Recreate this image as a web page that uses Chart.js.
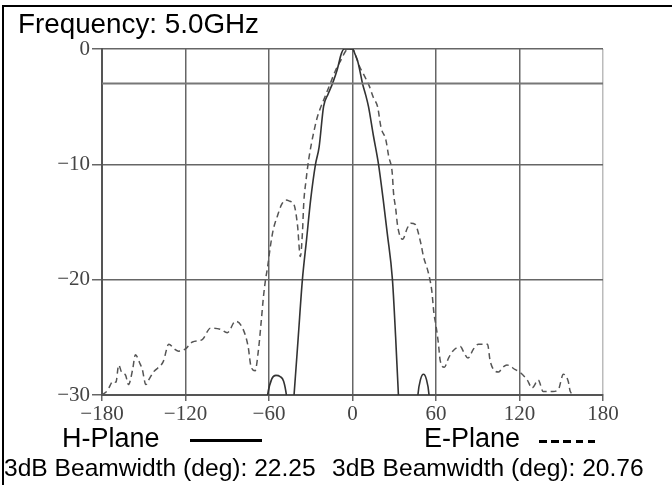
<!DOCTYPE html>
<html>
<head>
<meta charset="utf-8">
<script src="https://cdn.jsdelivr.net/npm/chart.js@4"></script>
<style>
  body { margin: 0; background: #fff; }
  #wrap { position: relative; width: 672px; height: 485px; overflow: hidden; font-family: "Liberation Sans", Arial, sans-serif; color: #000; }
  #chartBox { position: absolute; left: 0; top: 0; width: 672px; height: 485px; }
  .frame { position: absolute; left: 2px; top: 5px; right: 0; bottom: 0; border-top: 2px solid #000; border-left: 2px solid #000; pointer-events: none; }
  .txt { position: absolute; white-space: nowrap; line-height: 1; }
  .solidKey { position: absolute; height: 3px; background: #000; }
  .dashKey { position: absolute; height: 3px; background: repeating-linear-gradient(to right, #000 0 7.5px, transparent 7.5px 12.2px); }
</style>
</head>
<body>
<div id="wrap">
  <div id="chartBox"><canvas id="pattern"></canvas></div>
  <div class="frame"></div>
  <div class="txt" style="left:18px; top:10px; font-size:27.8px;">Frequency: 5.0GHz</div>
  <div class="txt" style="left:62px; top:425px; font-size:27px;">H-Plane</div>
  <div class="solidKey" style="left:190px; top:439px; width:72px;"></div>
  <div class="txt" style="left:424px; top:425px; font-size:27px;">E-Plane</div>
  <div class="dashKey" style="left:539px; top:440px; width:57px;"></div>
  <div class="txt" style="left:4px; top:456px; font-size:24.6px;">3dB Beamwidth (deg): 22.25</div>
  <div class="txt" style="left:332px; top:456px; font-size:24.6px;">3dB Beamwidth (deg): 20.76</div>
</div>
<script>
// angle ticks (deg) and level ticks (dB)
const angleTicks = [-180, -120, -60, 0, 60, 120, 180];
const levelTicks = [0, -10, -20, -30];

// H-Plane pattern (solid)
const hAngle = [-180, -66, -61, -58, -55, -52, -49.5, -47.5, -45, -44, -42, -39, -36, -33, -30, -26.6, -24, -20.8, -17.5, -14.4,
  -11, -8, -6, -3, 0, 2, 3.6, 5.5, 7.2, 9.5, 11.5, 15, 18.7, 22, 25, 28.7, 31, 33, 35, 45, 47, 49, 51, 53, 55, 57, 180];
const hGain = [-40, -36, -30, -28.6, -28.3, -28.4, -28.8, -30, -33, -33, -30, -25, -20, -16.5, -13, -10, -8.5, -5, -3.9, -3,
  -1.8, -0.4, 0, 0, 0, -0.5, -1, -2, -3, -4, -5, -7.5, -10, -13, -16, -20, -25, -30, -34, -34, -30, -28.6, -28.2, -28.6, -30, -34, -40];

// E-Plane pattern (dashed)
const eAngle = [-180, -176, -172, -170, -168, -166, -163, -161, -158, -156, -153, -151, -148.5, -146, -143, -136, -132, -128, -125, -120,
  -115, -108, -102, -95, -90, -84, -79, -75, -73, -70, -67.5, -65.5, -64, -62.5, -61, -59, -57, -54, -51, -48,
  -45, -42, -39.5, -37.5, -36, -35, -33.5, -31.5, -29.5, -28, -25.5, -23.6, -20, -16, -12, -8.5, -5, -3, 0, 2,
  5, 8, 12, 15, 18, 20.5, 24, 26, 28.5, 29.5, 31, 32.5, 36, 39.5, 42, 45, 49, 51, 54.5, 57,
  58.5, 60, 61.7, 63, 66, 69, 72, 77.5, 80, 83, 87, 90.5, 97, 99, 105, 108, 111, 117, 120, 125.6,
  129, 133.5, 137, 144, 148, 151.5, 155, 156.5, 160, 180];
const eGain = [-30, -29.6, -28.8, -28.9, -27.4, -28, -28.3, -29.1, -27.8, -26.5, -27.2, -27.8, -29.1, -28.6, -28, -27.1, -25.6, -26, -26.2, -26,
  -25.4, -25.2, -24.2, -24.3, -24.6, -23.6, -24.2, -25.8, -27.5, -27.9, -26, -23.5, -21.5, -20, -18.9, -17.1, -15.7, -14.5, -13.5, -13.1,
  -13.2, -13.5, -15.3, -18, -16, -13.3, -11.5, -9.6, -8.2, -7.3, -6, -5.3, -4.2, -3, -1.8, -1, -0.2, 0, 0, -0.5,
  -1.5, -2.2, -3.2, -4.2, -5, -6.8, -7.9, -9.3, -10.7, -12.5, -13.8, -15.4, -16.5, -15.5, -15.1, -15.2, -16.8, -18, -19.4, -21,
  -22.9, -24, -25.5, -27, -27.6, -26.8, -26.2, -25.8, -26.3, -26.8, -26, -25.6, -25.6, -27.1, -28, -27.6, -27.4, -27.8, -28, -28.7,
  -29.4, -28.7, -29.7, -29.7, -29.5, -28.2, -28.8, -29.7, -30, -30];

// -3 dB reference line
const refAngle = [-180, 180];
const refGain = [-3, -3];

const toPoints = (xs, ys) => xs.map((x, i) => ({ x: x, y: ys[i] }));
const minus = v => String(v).replace('-', '\u2212');

const tickFont = { family: '"Liberation Serif", "Times New Roman", serif', size: 21 };

new Chart(document.getElementById('pattern').getContext('2d'), {
  type: 'line',
  data: {
    datasets: [
      {
        label: '-3 dB',
        data: toPoints(refAngle, refGain),
        borderColor: '#777',
        borderWidth: 2,
        pointRadius: 0
      },
      {
        label: 'H-Plane',
        data: toPoints(hAngle, hGain),
        borderColor: '#333',
        borderWidth: 1.6,
        pointRadius: 0,
        cubicInterpolationMode: 'monotone'
      },
      {
        label: 'E-Plane',
        data: toPoints(eAngle, eGain),
        borderColor: '#555',
        borderWidth: 1.5,
        borderDash: [6, 4],
        pointRadius: 0,
        cubicInterpolationMode: 'monotone'
      }
    ]
  },
  options: {
    responsive: true,
    maintainAspectRatio: false,
    animation: false,
    events: [],
    layout: { padding: { left: 0, right: 69, top: 49, bottom: 50 } },
    plugins: {
      legend: { display: false },
      tooltip: { enabled: false },
      title: { display: false }
    },
    scales: {
      x: {
        type: 'linear',
        min: -180,
        max: 180,
        afterBuildTicks: axis => { axis.ticks = angleTicks.map(v => ({ value: v })); },
        afterFit: axis => { axis.height = 40; },
        ticks: { color: '#444', font: tickFont, padding: 1, maxRotation: 0, callback: v => minus(v) },
        grid: {
          color: c => (c.tick && c.tick.value === 180 ? '#bbb' : '#666'),
          lineWidth: 1.5,
          tickLength: 6,
          tickColor: '#666'
        },
        border: { color: '#555', width: 2 }
      },
      y: {
        min: -30,
        max: 0,
        afterBuildTicks: axis => { axis.ticks = levelTicks.map(v => ({ value: v })); },
        afterFit: axis => { axis.width = 102; },
        ticks: { color: '#444', font: tickFont, padding: 2, callback: v => minus(v) },
        grid: { color: '#666', lineWidth: 1.5, tickLength: 10, tickColor: '#666' },
        border: { color: '#555', width: 2 }
      }
    }
  }
});
</script>
</body>
</html>
